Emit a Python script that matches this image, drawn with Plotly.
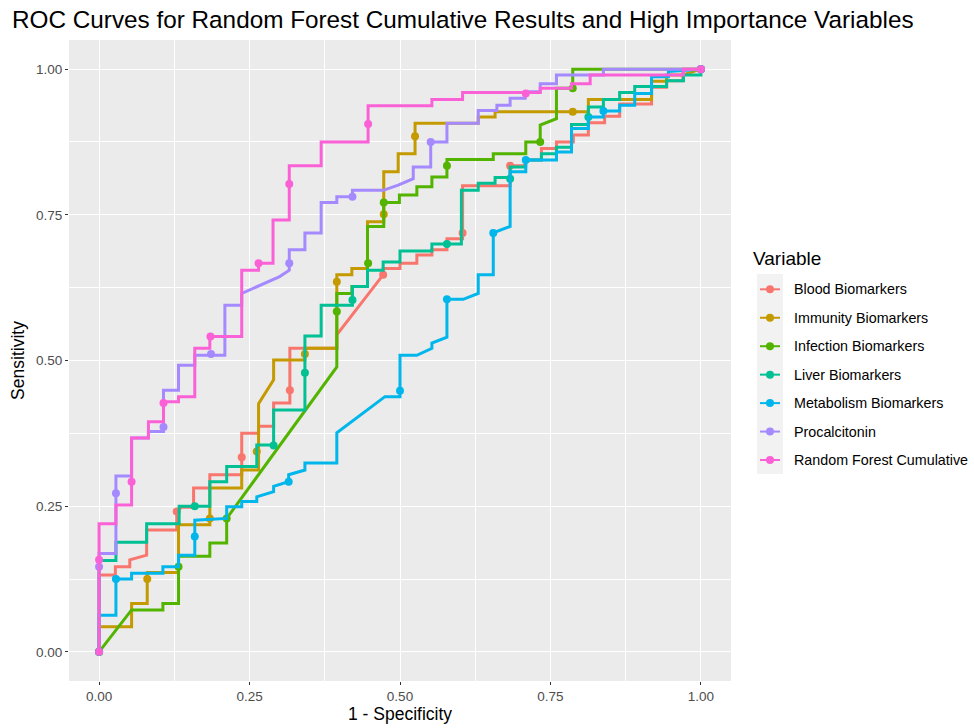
import plotly.graph_objects as go

# ---------------- data ----------------
variables = ["Blood Biomarkers", "Immunity Biomarkers", "Infection Biomarkers",
             "Liver Biomarkers", "Metabolism Biomarkers", "Procalcitonin",
             "Random Forest Cumulative"]
colors = ["#F8766D", "#C49A00", "#53B400", "#00C094", "#00B6EB", "#A58AFF", "#FB61D7"]

tick_vals = [0, 0.25, 0.5, 0.75, 1.0]
tick_text = ["0.00", "0.25", "0.50", "0.75", "1.00"]

blood_fpr = [0, 0, 0.027, 0.027, 0.051, 0.051, 0.079, 0.079, 0.129, 0.129, 0.137, 0.157, 0.157, 0.184, 0.184,
             0.237, 0.237, 0.265, 0.265, 0.29, 0.29, 0.317, 0.317, 0.395, 0.395, 0.472, 0.472, 0.5, 0.5,
             0.528, 0.528, 0.553, 0.553, 0.578, 0.578, 0.604, 0.604, 0.683, 0.683, 0.709, 0.709, 0.735,
             0.735, 0.76, 0.76, 0.788, 0.788, 0.813, 0.813, 0.84, 0.84, 0.865, 0.865, 0.918, 0.918, 0.943,
             0.943, 0.97, 0.97, 1.0]
blood_tpr = [0, 0.132, 0.132, 0.146, 0.146, 0.158, 0.166, 0.209, 0.209, 0.241, 0.248, 0.248, 0.281, 0.281, 0.304,
             0.304, 0.375, 0.375, 0.387, 0.387, 0.427, 0.427, 0.521, 0.521, 0.544, 0.647, 0.658, 0.658, 0.667,
             0.667, 0.681, 0.681, 0.69, 0.69, 0.709, 0.709, 0.80, 0.80, 0.834, 0.834, 0.844, 0.844,
             0.864, 0.864, 0.875, 0.875, 0.887, 0.887, 0.908, 0.908, 0.919, 0.919, 0.94, 0.94, 0.969, 0.969,
             0.98, 0.98, 1.0, 1.0]
blood_dot_fpr = [0, 0.129, 0.237, 0.317, 0.472, 0.604, 0.683, 1.0]
blood_dot_tpr = [0, 0.241, 0.334, 0.449, 0.647, 0.719, 0.834, 1.0]

immunity_fpr = [0, 0, 0.054, 0.054, 0.08, 0.08, 0.132, 0.132, 0.184, 0.184, 0.237, 0.237, 0.265, 0.265, 0.29,
                0.29, 0.342, 0.342, 0.395, 0.395, 0.42, 0.42, 0.446, 0.446, 0.473, 0.473, 0.497, 0.497,
                0.525, 0.525, 0.63, 0.63, 0.658, 0.658, 0.813, 0.813, 0.918, 0.918, 0.943, 0.943, 0.97, 1.0]
immunity_tpr = [0, 0.043, 0.043, 0.083, 0.083, 0.136, 0.136, 0.218, 0.218, 0.281, 0.281, 0.312, 0.312, 0.426,
                0.467, 0.501, 0.501, 0.521, 0.521, 0.647, 0.647, 0.658, 0.658, 0.738, 0.738, 0.824, 0.824,
                0.855, 0.855, 0.907, 0.907, 0.918, 0.918, 0.927, 0.927, 0.948, 0.948, 0.979, 0.979, 0.99,
                0.99, 1.0]
immunity_dot_fpr = [0, 0.08, 0.184, 0.262, 0.342, 0.395, 0.473, 0.525, 0.787, 1.0]
immunity_dot_tpr = [0, 0.125, 0.229, 0.344, 0.511, 0.635, 0.751, 0.885, 0.927, 1.0]

infection_fpr = [0, 0.054, 0.106, 0.106, 0.132, 0.132, 0.184, 0.184, 0.212, 0.212, 0.395, 0.395, 0.42, 0.42,
                 0.446, 0.446, 0.473, 0.473, 0.499, 0.499, 0.528, 0.528, 0.553, 0.553, 0.578, 0.578, 0.655,
                 0.655, 0.709, 0.709, 0.733, 0.733, 0.76, 0.76, 0.787, 0.787, 1.0]
infection_tpr = [0, 0.072, 0.072, 0.083, 0.083, 0.164, 0.164, 0.187, 0.187, 0.229, 0.489, 0.615, 0.615, 0.627,
                 0.627, 0.73, 0.73, 0.771, 0.771, 0.784, 0.784, 0.798, 0.798, 0.815, 0.815, 0.845, 0.845,
                 0.855, 0.855, 0.875, 0.875, 0.904, 0.915, 0.967, 0.967, 1.0, 1.0]
infection_dot_fpr = [0, 0.132, 0.212, 0.395, 0.447, 0.473, 0.578, 0.733, 0.787, 1.0]
infection_dot_tpr = [0, 0.146, 0.229, 0.584, 0.667, 0.771, 0.834, 0.875, 0.967, 1.0]

liver_fpr = [0, 0, 0.028, 0.028, 0.079, 0.079, 0.133, 0.133, 0.184, 0.184, 0.212, 0.212, 0.262, 0.262, 0.29,
             0.29, 0.342, 0.342, 0.369, 0.369, 0.421, 0.421, 0.446, 0.446, 0.472, 0.472, 0.5, 0.5, 0.553,
             0.553, 0.602, 0.602, 0.63, 0.63, 0.658, 0.658, 0.683, 0.683, 0.708, 0.708, 0.735, 0.735, 0.76,
             0.76, 0.785, 0.785, 0.813, 0.813, 0.838, 0.838, 0.865, 0.865, 0.89, 0.89, 0.943, 0.943, 0.971,
             0.971, 1.0, 1.0]
liver_tpr = [0, 0.157, 0.157, 0.188, 0.188, 0.22, 0.22, 0.25, 0.25, 0.292, 0.292, 0.318, 0.318, 0.355, 0.355,
             0.415, 0.415, 0.542, 0.542, 0.595, 0.595, 0.627, 0.627, 0.655, 0.655, 0.669, 0.669, 0.688, 0.688,
             0.70, 0.70, 0.792, 0.792, 0.804, 0.804, 0.814, 0.814, 0.832, 0.832, 0.844, 0.844, 0.855, 0.855,
             0.866, 0.866, 0.905, 0.905, 0.935, 0.935, 0.948, 0.948, 0.96, 0.96, 0.97, 0.97, 0.98, 0.98,
             0.99, 0.99, 1.0]
liver_dot_fpr = [0, 0.159, 0.29, 0.342, 0.421, 0.578, 0.683, 0.813, 1.0]
liver_dot_tpr = [0, 0.25, 0.354, 0.479, 0.604, 0.70, 0.812, 0.918, 1.0]

metabolism_fpr = [0, 0, 0.028, 0.028, 0.054, 0.054, 0.106, 0.106, 0.132, 0.132, 0.159, 0.159, 0.212, 0.212,
                  0.237, 0.237, 0.262, 0.262, 0.29, 0.29, 0.315, 0.315, 0.342, 0.342, 0.395, 0.395, 0.475,
                  0.5, 0.5, 0.528, 0.553, 0.553, 0.578, 0.578, 0.605, 0.63, 0.63, 0.655, 0.655, 0.683, 0.683,
                  0.709, 0.709, 0.76, 0.76, 0.785, 0.785, 0.813, 0.813, 0.838, 0.838, 0.865, 0.865, 0.89,
                  0.89, 0.918, 0.918, 0.946, 0.946, 1.0]
metabolism_tpr = [0, 0.063, 0.063, 0.125, 0.125, 0.135, 0.135, 0.146, 0.146, 0.166, 0.166, 0.226, 0.229, 0.249,
                  0.249, 0.258, 0.258, 0.266, 0.275, 0.284, 0.292, 0.304, 0.312, 0.324, 0.324, 0.376, 0.438,
                  0.438, 0.509, 0.509, 0.521, 0.53, 0.54, 0.605, 0.605, 0.615, 0.647, 0.647, 0.719, 0.73, 0.824,
                  0.824, 0.844, 0.844, 0.858, 0.858, 0.898, 0.898, 0.918, 0.918, 0.928, 0.928, 0.938, 0.938,
                  0.958, 0.958, 0.987, 0.987, 0.996, 1.0]
metabolism_dot_fpr = [0, 0.028, 0.159, 0.315, 0.5, 0.578, 0.655, 0.709, 0.838, 1.0]
metabolism_dot_tpr = [0, 0.125, 0.198, 0.292, 0.448, 0.605, 0.719, 0.844, 0.928, 1.0]

procalcitonin_fpr = [0, 0, 0.028, 0.028, 0.054, 0.054, 0.082, 0.082, 0.107, 0.107, 0.132, 0.132, 0.159, 0.159,
                     0.209, 0.209, 0.237, 0.237, 0.30, 0.316, 0.316, 0.342, 0.342, 0.369, 0.369, 0.395, 0.395,
                     0.421, 0.421, 0.472, 0.497, 0.522, 0.522, 0.551, 0.551, 0.578, 0.578, 0.63, 0.63, 0.661,
                     0.661, 0.683, 0.683, 0.708, 0.708, 0.733, 0.733, 0.76, 0.76, 0.838, 0.838, 1.0]
procalcitonin_tpr = [0, 0.169, 0.169, 0.302, 0.302, 0.367, 0.367, 0.378, 0.378, 0.449, 0.449, 0.492, 0.492, 0.509,
                     0.509, 0.595, 0.595, 0.615, 0.644, 0.655, 0.69, 0.69, 0.719, 0.719, 0.771, 0.771, 0.781,
                     0.781, 0.792, 0.792, 0.801, 0.812, 0.832, 0.832, 0.875, 0.875, 0.907, 0.907, 0.929, 0.929,
                     0.938, 0.938, 0.95, 0.95, 0.961, 0.961, 0.975, 0.975, 0.99, 0.99, 1.0, 1.0]
procalcitonin_dot_fpr = [0, 0.028, 0.107, 0.186, 0.316, 0.421, 0.551, 1.0]
procalcitonin_dot_tpr = [0.146, 0.272, 0.386, 0.511, 0.667, 0.781, 0.875, 1.0]

rf_fpr = [0, 0, 0.028, 0.028, 0.054, 0.054, 0.082, 0.082, 0.107, 0.107, 0.132, 0.132, 0.159, 0.159, 0.184,
          0.184, 0.237, 0.237, 0.265, 0.265, 0.289, 0.289, 0.316, 0.316, 0.369, 0.369, 0.447, 0.447, 0.553,
          0.553, 0.604, 0.604, 0.733, 0.733, 0.785, 0.785, 0.816, 0.816, 0.971, 0.971, 1.0]
rf_tpr = [0, 0.22, 0.22, 0.252, 0.252, 0.367, 0.367, 0.395, 0.395, 0.429, 0.429, 0.438, 0.438, 0.521, 0.521,
          0.541, 0.541, 0.655, 0.655, 0.667, 0.667, 0.741, 0.741, 0.834, 0.834, 0.875, 0.875, 0.937, 0.937,
          0.948, 0.948, 0.96, 0.96, 0.967, 0.967, 0.975, 0.975, 0.99, 0.99, 1.0, 1.0]
rf_dot_fpr = [0, 0, 0.054, 0.107, 0.185, 0.265, 0.316, 0.447, 0.709, 1.0]
rf_dot_tpr = [0, 0.158, 0.292, 0.427, 0.541, 0.667, 0.803, 0.906, 0.958, 1.0]

paths = [(blood_fpr, blood_tpr, blood_dot_fpr, blood_dot_tpr),
         (immunity_fpr, immunity_tpr, immunity_dot_fpr, immunity_dot_tpr),
         (infection_fpr, infection_tpr, infection_dot_fpr, infection_dot_tpr),
         (liver_fpr, liver_tpr, liver_dot_fpr, liver_dot_tpr),
         (metabolism_fpr, metabolism_tpr, metabolism_dot_fpr, metabolism_dot_tpr),
         (procalcitonin_fpr, procalcitonin_tpr, procalcitonin_dot_fpr, procalcitonin_dot_tpr),
         (rf_fpr, rf_tpr, rf_dot_fpr, rf_dot_tpr)]

# ---------------- figure ----------------
FONT = "Liberation Sans, Arial, Helvetica, sans-serif"
W, H = 974, 728
ML, MR, MT, MB = 69, 243, 40, 47

fig = go.Figure()
for name, col, (fx, fy, dx, dy) in zip(variables, colors, paths):
    fig.add_trace(go.Scatter(x=fx, y=fy, mode="lines", name=name,
                             line=dict(color=col, width=3), showlegend=False,
                             legendgroup=name, hoverinfo="skip"))
    fig.add_trace(go.Scatter(x=dx, y=dy, mode="markers", name=name,
                             marker=dict(color=col, size=8), showlegend=False,
                             legendgroup=name))

axis_common = dict(range=[-0.05, 1.05], tickmode="array", tickvals=tick_vals, ticktext=tick_text,
                   showgrid=True, gridcolor="white", gridwidth=1.1, zeroline=False, showline=False,
                   ticks="outside", ticklen=3, tickwidth=1, tickcolor="#333333",
                   tickfont=dict(family=FONT, size=13.5, color="#4D4D4D"),
                   minor=dict(tickmode="array", tickvals=[0.125, 0.375, 0.625, 0.875],
                              showgrid=True, gridcolor="white", gridwidth=0.5, ticks=""))

fig.update_layout(
    width=W, height=H,
    margin=dict(l=ML, r=MR, t=MT, b=MB, autoexpand=False),
    paper_bgcolor="white", plot_bgcolor="#EBEBEB",
    font=dict(family=FONT, color="black"),
    title=dict(text="ROC Curves for Random Forest Cumulative Results and High Importance Variables",
               x=12 / W, xref="container", xanchor="left",
               y=1 - 19 / H, yref="container", yanchor="middle",
               font=dict(family=FONT, size=24.3, color="black")),
    xaxis=dict(axis_common, title=dict(text="1 - Specificity", standoff=3,
                                        font=dict(family=FONT, size=17.5, color="black"))),
    yaxis=dict(axis_common, title=dict(text="Sensitivity", standoff=6,
                                        font=dict(family=FONT, size=17.5, color="black"))),
    showlegend=False,
)

# ---------------- manual ggplot-style legend ----------------
pw, ph = W - ML - MR, H - MT - MB


def px2paper_x(px):
    return (px - ML) / pw


def px2paper_y(py):
    return (H - MB - py) / ph


shapes = []
annotations = [dict(text="Variable", xref="paper", yref="paper",
                    x=px2paper_x(751), y=px2paper_y(258), xanchor="left", yanchor="middle",
                    showarrow=False, font=dict(family=FONT, size=19, color="black"))]
shapes.append(dict(type="rect", xref="paper", yref="paper",
                   x0=px2paper_x(757), x1=px2paper_x(783), y0=px2paper_y(274), y1=px2paper_y(474),
                   fillcolor="#F2F2F2", line=dict(width=0), layer="above"))
key_y0, key_step = 289.3, 28.45
for i, (name, col) in enumerate(zip(variables, colors)):
    yy = px2paper_y(key_y0 + i * key_step)
    shapes.append(dict(type="line", xref="paper", yref="paper",
                       x0=px2paper_x(760), x1=px2paper_x(780), y0=yy, y1=yy,
                       line=dict(color=col, width=2), layer="above"))
    shapes.append(dict(type="circle", xref="paper", yref="paper",
                       xsizemode="pixel", ysizemode="pixel",
                       xanchor=px2paper_x(770), yanchor=yy, x0=-4, x1=4, y0=-4, y1=4,
                       fillcolor=col, line=dict(width=0), layer="above"))
    annotations.append(dict(text=name, xref="paper", yref="paper",
                            x=px2paper_x(792), y=yy, xanchor="left", yanchor="middle",
                            showarrow=False, font=dict(family=FONT, size=14.3, color="black")))

fig.update_layout(shapes=shapes, annotations=annotations)

fig.write_html("out.html")
